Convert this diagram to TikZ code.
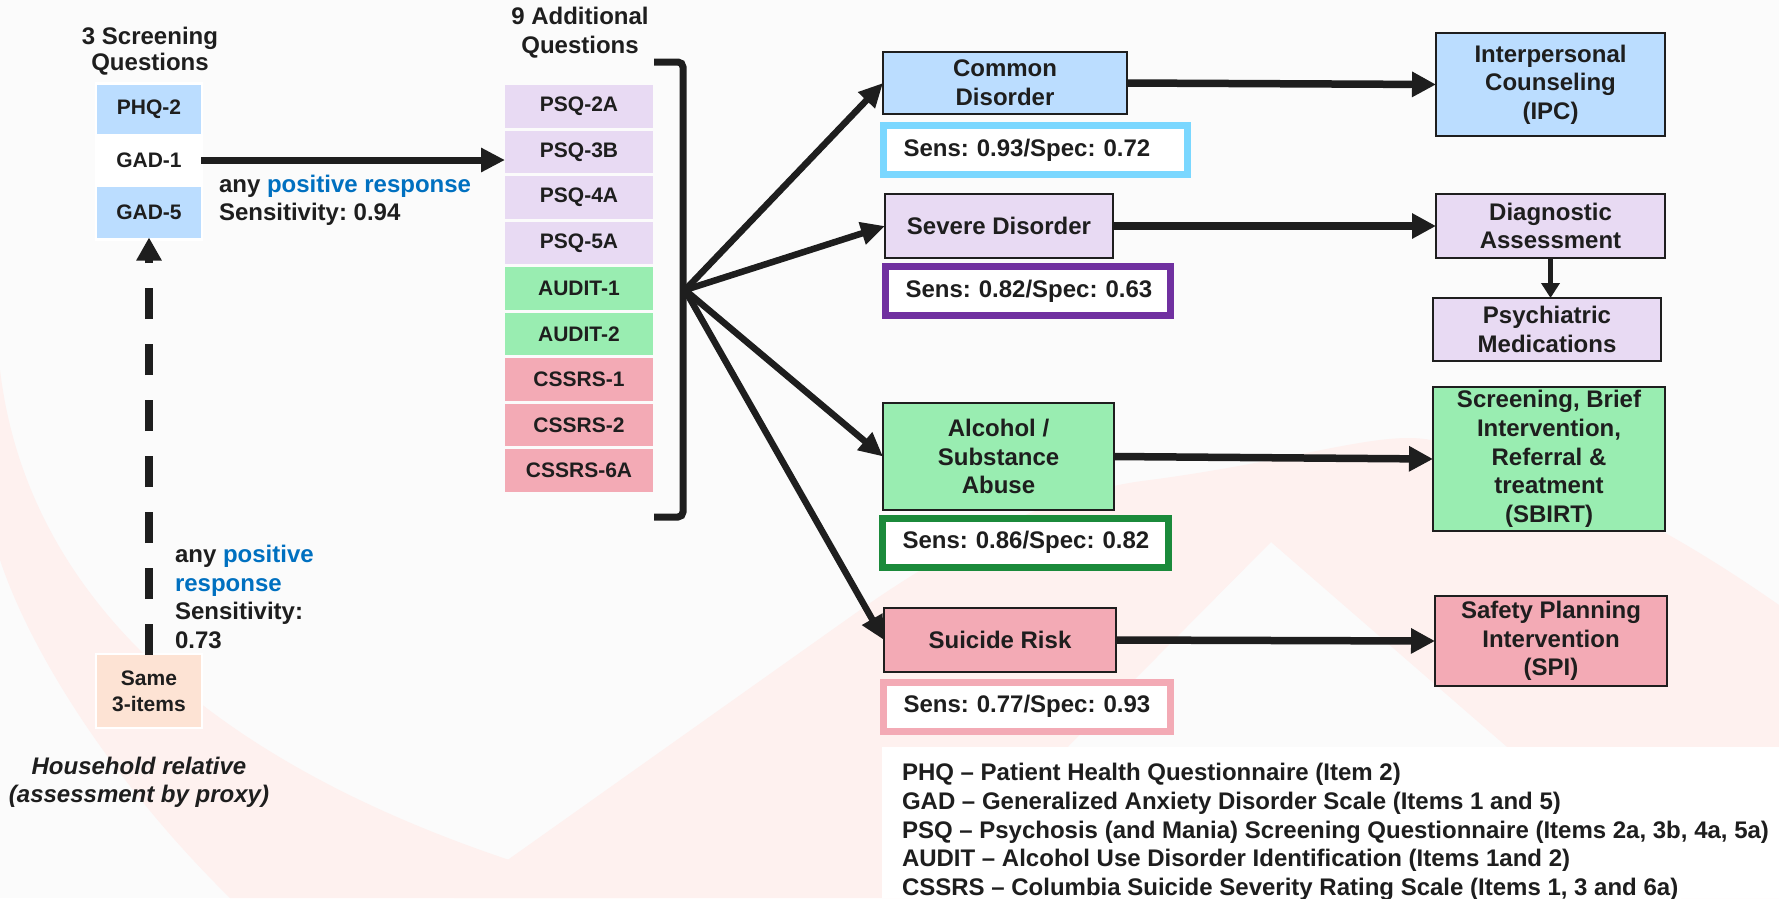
\documentclass[tikz,border=0pt]{standalone}
\usepackage{fontspec}
\setmainfont{Liberation Sans}
\usetikzlibrary{arrows.meta}
\frenchspacing
\definecolor{bg}{HTML}{FBFBFB}
\definecolor{wm}{HTML}{FEF1EF}
\definecolor{ink}{HTML}{1E1E1E}
\definecolor{cblue}{HTML}{BBDDFF}
\definecolor{clav}{HTML}{E8DAF3}
\definecolor{cgreen}{HTML}{99EDB1}
\definecolor{cpink}{HTML}{F3AAB5}
\definecolor{cpeach}{HTML}{FDE3D4}
\definecolor{bcyan}{HTML}{7AD7FF}
\definecolor{bpurple}{HTML}{7030A0}
\definecolor{bgreen}{HTML}{1B8A3B}
\definecolor{bpink}{HTML}{F3AAB5}
\definecolor{tblue}{HTML}{0070C0}
\begin{document}
\frenchspacing
\begin{tikzpicture}[x=1pt,y=-1pt,
  every node/.style={font=\bfseries\fontsize{24}{28.7}\selectfont, text=ink, inner sep=0pt, outer sep=0pt},
  flowbox/.style={draw=ink, line width=2.5pt, align=center},
  qbox/.style={minimum width=104pt, font=\bfseries\fontsize{21}{25}\selectfont},
  pbox/.style={minimum width=148pt, minimum height=42.5pt, font=\bfseries\fontsize{21}{25}\selectfont},
  sensbox/.style={draw=#1, line width=7pt, fill=white, inner xsep=20pt, inner ysep=0pt, minimum height=49pt, align=left},
  gadarrow/.style={draw=ink, line width=7pt, -{Triangle[length=24pt,width=23pt]}},
  fanarrow/.style={draw=ink, line width=6.5pt, -{Triangle[length=24pt,width=22pt]}},
  outarrow/.style={draw=ink, line width=7.5pt, -{Triangle[length=24pt,width=24pt]}},
  proxyarrow/.style={draw=ink, line width=8.5pt, dash pattern=on 31pt off 25pt, -{Triangle[length=23pt,width=24pt]}},
  smallarrow/.style={draw=ink, line width=5pt, -{Triangle[length=15pt,width=18pt]}}
]
\useasboundingbox (0,0) rectangle (1779,898);
\fill[bg] (0,0) rectangle (1779,898);
% faint watermark
\fill[wm] (0,370) .. controls (30,620) and (250,800) .. (640,898) -- (230,898) .. controls (110,780) and (30,650) .. (0,560) -- cycle;
\fill[wm] (454,898) -- (860,610) .. controls (960,540) and (1060,490) .. (1150,480) .. controls (1300,460) and (1380,430) .. (1431,440) .. controls (1550,470) and (1650,515) .. (1779,605) -- (1779,898) -- (1681,898) -- (1271,542) -- (918,898) -- cycle;
\fill[white] (882,747) rectangle (1779,898);

% left column
\node[align=center, font=\bfseries\fontsize{24}{26}\selectfont] (t1) at (150,51) {3 Screening\\Questions};
\fill[white] (95,82) rectangle (203,241);
\node[qbox, fill=cblue, minimum height=49pt] (phq) at (149,109) {PHQ-2};
\node[qbox, fill=white, minimum height=53pt] (gad1) at (149,160) {GAD-1};
\node[qbox, fill=cblue, minimum height=51pt] (gad5) at (149,212) {GAD-5};
\fill[white] (95,653) rectangle (203,729);
\node[qbox, fill=cpeach, minimum height=72pt, align=center, font=\bfseries\fontsize{21}{26}\selectfont] (same) at (149,691) {Same\\3-items};
\node[align=center, font=\bfseries\itshape\fontsize{24}{28}\selectfont] (hh) at (139,782) {Household relative\\(assessment by proxy)};
\draw[proxyarrow] (same.north) -- (gad5.south);
\node[anchor=west, align=left, font=\bfseries\fontsize{24}{28.6}\selectfont] (lab2) at (175,597) {any \textcolor{tblue}{positive}\\\textcolor{tblue}{response}\\Sensitivity:\\0.73};

% middle column
\node[align=center, font=\bfseries\fontsize{24}{29}\selectfont] (t2) at (580,33) {9 Additional\\Questions};
\node[pbox, fill=clav] (q1) at (579,106.5) {PSQ-2A};
\node[pbox, fill=clav] (q2) at (579,152) {PSQ-3B};
\node[pbox, fill=clav] (q3) at (579,197.5) {PSQ-4A};
\node[pbox, fill=clav] (q4) at (579,243) {PSQ-5A};
\node[pbox, fill=cgreen] (q5) at (579,288.5) {AUDIT-1};
\node[pbox, fill=cgreen] (q6) at (579,334) {AUDIT-2};
\node[pbox, fill=cpink] (q7) at (579,379.5) {CSSRS-1};
\node[pbox, fill=cpink] (q8) at (579,425) {CSSRS-2};
\node[pbox, fill=cpink] (q9) at (579,470.5) {CSSRS-6A};
\draw[gadarrow] (gad1.east) -- (gad1.east -| q2.west);
\node[anchor=west, align=left, font=\bfseries\fontsize{24}{28}\selectfont] (lab1) at (219,200) {any \textcolor{tblue}{positive response}\\Sensitivity: 0.94};
\draw[ink, line width=7pt, rounded corners=5pt] (654,62) -- (683,62) -- (683,517) -- (654,517);
\coordinate (fan) at (685,290);

% disorder column
\node[flowbox, fill=cblue, minimum width=244pt, minimum height=62pt] (common) at (1005,83) {Common\\Disorder};
\node[sensbox=bcyan, text width=264pt] (s1) at (1035.5,150) {\mbox{Sens: 0.93/Spec: 0.72}};
\node[flowbox, fill=clav, minimum width=228pt, minimum height=64pt] (severe) at (999,226) {Severe Disorder};
\node[sensbox=bpurple, text width=245pt] (s2) at (1028,291) {\mbox{Sens: 0.82/Spec: 0.63}};
\node[flowbox, fill=cgreen, minimum width=231pt, minimum height=107pt] (alcohol) at (998.5,456.5) {Alcohol /\\Substance\\Abuse};
\node[sensbox=bgreen, text width=246pt] (s3) at (1025.5,542.5) {\mbox{Sens: 0.86/Spec: 0.82}};
\node[flowbox, fill=cpink, minimum width=232pt, minimum height=64pt] (suicide) at (1000,640) {Suicide Risk};
\node[sensbox=bpink, text width=247pt] (s4) at (1027,706.5) {\mbox{Sens: 0.77/Spec: 0.93}};

% intervention column
\node[flowbox, fill=cblue, minimum width=229pt, minimum height=103pt] (ipc) at (1550.5,84.5) {Interpersonal\\Counseling\\(IPC)};
\node[flowbox, fill=clav, minimum width=229pt, minimum height=64pt] (diag) at (1550.5,226) {Diagnostic\\Assessment};
\node[flowbox, fill=clav, minimum width=228pt, minimum height=63pt] (psych) at (1547,329.5) {Psychiatric\\Medications};
\node[flowbox, fill=cgreen, minimum width=232pt, minimum height=144pt] (sbirt) at (1549,459) {Screening, Brief\\Intervention,\\Referral \&\\treatment\\(SBIRT)};
\node[flowbox, fill=cpink, minimum width=232pt, minimum height=90pt] (spi) at (1551,641) {Safety Planning\\Intervention\\(SPI)};

% connectors
\draw[fanarrow] (fan) -- (common.west);
\draw[fanarrow] (fan) -- (severe.west);
\draw[fanarrow] (fan) -- (alcohol.west);
\draw[fanarrow] (fan) -- (suicide.west);
\draw[outarrow] (common.east) -- (ipc.west);
\draw[outarrow] (severe.east) -- (diag.west);
\draw[outarrow] (alcohol.east) -- (sbirt.west);
\draw[outarrow] (suicide.east) -- (spi.west);
\draw[smallarrow] (diag.south) -- (diag.south |- psych.north);

% legend
\node[anchor=west, align=left, font=\bfseries\fontsize{24}{28.75}\selectfont] (legend) at (902,832) {PHQ -- Patient Health Questionnaire (Item 2)\\GAD -- Generalized Anxiety Disorder Scale (Items 1 and 5)\\PSQ -- Psychosis (and Mania) Screening Questionnaire (Items 2a, 3b, 4a, 5a)\\AUDIT -- Alcohol Use Disorder Identification (Items 1and 2)\\CSSRS -- Columbia Suicide Severity Rating Scale (Items 1, 3 and 6a)};
\end{tikzpicture}
\end{document}
